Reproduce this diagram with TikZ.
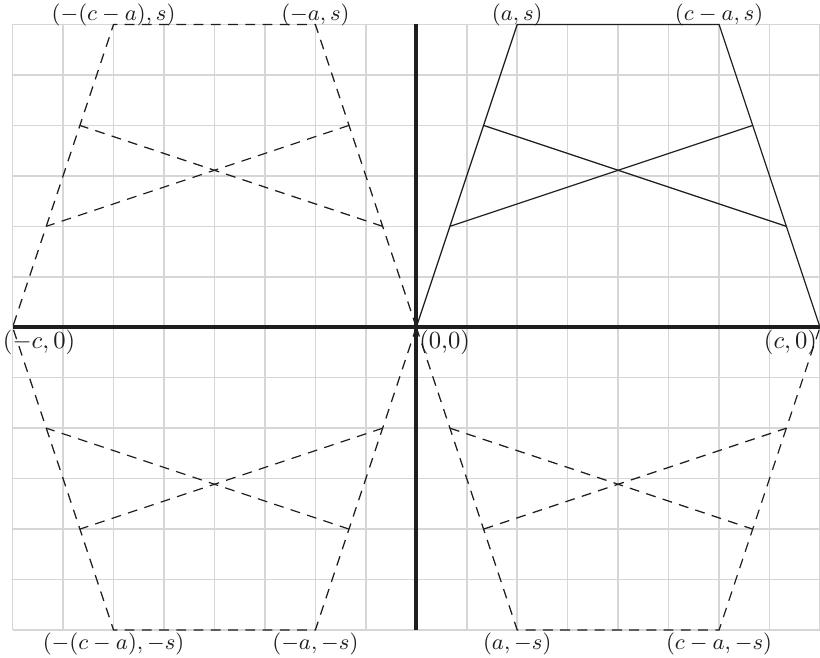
\documentclass[tikz,border=0pt]{standalone}
\usepackage{amsmath,amssymb}
\usepackage{tikz}
\usetikzlibrary{positioning,calc}
\definecolor{gridcolor}{RGB}{214,214,214}
\definecolor{inkcolor}{RGB}{30,30,30}

\begin{document}
\begin{tikzpicture}[
  scale=0.72,
  gridline/.style = {draw=gridcolor, line width=0.6pt},
  axis/.style     = {line width=1.6pt, color=inkcolor},
  trap/.style     = {line width=0.5pt, color=inkcolor},
  ghost/.style    = {trap, dash pattern=on 4pt off 3pt},
  lbl/.style      = {inner sep=0pt, font=\fontsize{9.4}{11}\selectfont, color=inkcolor},
  corner/.style   = {inner sep=1pt, font=\normalsize, color=inkcolor}
]
\useasboundingbox (-8.25,-6.545) rectangle (8,6.485);

\draw[gridline] (-8,-6) grid (8,6);
\draw[axis] (-8,0) -- (8,0);
\draw[axis] (0,-6) -- (0,6);

\foreach \sx/\sy/\q/\sty in {1/1/ne/trap, -1/1/nw/ghost,
                              -1/-1/sw/ghost, 1/-1/se/ghost}{
  \coordinate (\q-o) at (0,0);
  \coordinate (\q-a) at (2*\sx,6*\sy);
  \coordinate (\q-b) at (6*\sx,6*\sy);
  \coordinate (\q-c) at (8*\sx,0);
  \coordinate (\q-l1) at ($(\q-o)!1/3!(\q-a)$);
  \coordinate (\q-l2) at ($(\q-o)!2/3!(\q-a)$);
  \coordinate (\q-r1) at ($(\q-c)!1/3!(\q-b)$);
  \coordinate (\q-r2) at ($(\q-c)!2/3!(\q-b)$);
  \draw[\sty] (\q-o) -- (\q-a) -- (\q-b) -- (\q-c);
  \draw[\sty] (\q-l1) -- (\q-r2);
  \draw[\sty] (\q-l2) -- (\q-r1);
}

\node[lbl, above=-1pt of ne-a] (ne-a-lbl) {$(a,s)$};
\node[lbl, above=-1pt of ne-b] (ne-b-lbl) {$(c-a,s)$};
\node[lbl, above=-1pt of nw-a] (nw-a-lbl) {$(-a,s)$};
\node[lbl, above=-1pt of nw-b] (nw-b-lbl) {$(-(c-a),s)$};
\node[lbl, below=1pt of se-a] (se-a-lbl) {$(a,-s)$};
\node[lbl, below=1pt of se-b] (se-b-lbl) {$(c-a,-s)$};
\node[lbl, below=1pt of sw-a] (sw-a-lbl) {$(-a,-s)$};
\node[lbl, below=1pt of sw-b] (sw-b-lbl) {$(-(c-a),-s)$};

\node[corner, anchor=north west] (o-lbl) at (ne-o) {(0,0)};
\node[corner, anchor=north east] (c-lbl) at (ne-c) {$(c,0)$};
\node[corner, anchor=north west] (mc-lbl) at (-8.25,0) {$(-c,0)$};
\end{tikzpicture}
\end{document}
